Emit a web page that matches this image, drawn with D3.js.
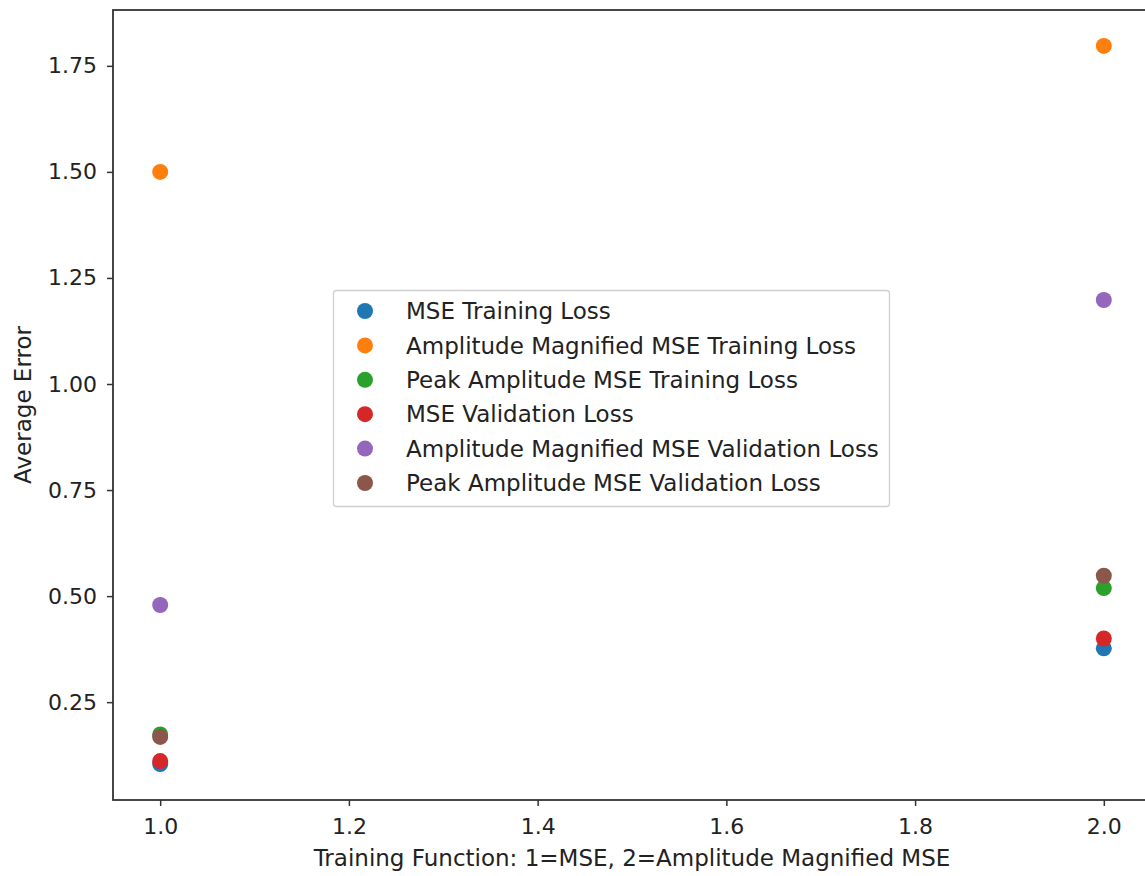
<!DOCTYPE html>
<html>
<head>
<meta charset="utf-8">
<script src="https://cdn.jsdelivr.net/npm/d3@7"></script>
<style>
  html, body { margin: 0; padding: 0; background: #fff; }
  svg { display: block; font-family: "DejaVu Sans", sans-serif; }
</style>
</head>
<body>
<svg id="chart" width="1145" height="876"></svg>
<script>
// Training function used (1 = MSE, 2 = Amplitude Magnified MSE)
const trainingFunctions = [1, 2];

// Average error of each loss, per training function
const seriesNames = [
  "MSE Training Loss",
  "Amplitude Magnified MSE Training Loss",
  "Peak Amplitude MSE Training Loss",
  "MSE Validation Loss",
  "Amplitude Magnified MSE Validation Loss",
  "Peak Amplitude MSE Validation Loss"
];
const mseTrainingLoss = [0.104, 0.377];
const ampMagTrainingLoss = [1.500, 1.797];
const peakAmpTrainingLoss = [0.174, 0.519];
const mseValidationLoss = [0.111, 0.400];
const ampMagValidationLoss = [0.479, 1.198];
const peakAmpValidationLoss = [0.168, 0.548];

const xTicks = [1.0, 1.2, 1.4, 1.6, 1.8, 2.0];
const yTicks = [0.25, 0.50, 0.75, 1.00, 1.25, 1.50, 1.75];

const seriesValues = [
  mseTrainingLoss, ampMagTrainingLoss, peakAmpTrainingLoss,
  mseValidationLoss, ampMagValidationLoss, peakAmpValidationLoss
];
const colors = ["#1f77b4", "#ff7f0e", "#2ca02c", "#d62728", "#9467bd", "#8c564b"];

const svg = d3.select("#chart");
const plot = { left: 113, right: 1151, top: 10, bottom: 800 };

// Domains padded by 5% of the data range on each side
const xExt = d3.extent(trainingFunctions);
const xPad = (xExt[1] - xExt[0]) * 0.05;
const x = d3.scaleLinear().domain([xExt[0] - xPad, xExt[1] + xPad]).range([plot.left, plot.right]);

const allY = seriesValues.flat();
const yExt = d3.extent(allY);
const yPad = (yExt[1] - yExt[0]) * 0.05;
const y = d3.scaleLinear().domain([yExt[0] - yPad, yExt[1] + yPad]).range([plot.bottom, plot.top]);

const textColor = "#222";
const labelSize = 23;
const tickSize = 22;

// Axes
const xAxis = svg.append("g")
  .attr("transform", `translate(0,${plot.bottom})`)
  .call(d3.axisBottom(x).tickValues(xTicks).tickFormat(d3.format(".1f")).tickSize(6).tickPadding(12));
const yAxis = svg.append("g")
  .attr("transform", `translate(${plot.left},0)`)
  .call(d3.axisLeft(y).tickValues(yTicks).tickFormat(d3.format(".2f")).tickSize(6).tickPadding(10));

[xAxis, yAxis].forEach(g => {
  g.select(".domain").remove();
  g.selectAll(".tick line").attr("stroke", "#333").attr("stroke-width", 1.5);
  g.selectAll(".tick text").attr("fill", textColor).style("font-size", tickSize + "px")
    .style("font-family", "DejaVu Sans");
});

// Frame
svg.append("rect")
  .attr("x", plot.left).attr("y", plot.top)
  .attr("width", plot.right - plot.left).attr("height", plot.bottom - plot.top)
  .attr("fill", "none").attr("stroke", "#333").attr("stroke-width", 1.8);

// Points
const pointGroups = svg.append("g");
seriesValues.forEach((vals, i) => {
  pointGroups.append("g")
    .selectAll("circle")
    .data(vals.map((v, j) => ({ x: trainingFunctions[j], y: v })))
    .join("circle")
    .attr("cx", d => x(d.x))
    .attr("cy", d => y(d.y))
    .attr("r", 8)
    .attr("fill", colors[i]);
});

// Axis titles
svg.append("text")
  .attr("x", (plot.left + plot.right) / 2)
  .attr("y", 866)
  .attr("text-anchor", "middle")
  .attr("fill", textColor)
  .style("font-size", labelSize + "px")
  .text("Training Function: 1=MSE, 2=Amplitude Magnified MSE");

svg.append("text")
  .attr("transform", `translate(31,${(plot.top + plot.bottom) / 2}) rotate(-90)`)
  .attr("text-anchor", "middle")
  .attr("fill", textColor)
  .style("font-size", labelSize + "px")
  .text("Average Error");

// Legend
const legend = svg.append("g").attr("transform", "translate(333,290)");
legend.append("rect")
  .attr("x", 0.5).attr("y", 0.5)
  .attr("width", 556).attr("height", 216)
  .attr("rx", 3)
  .attr("fill", "#fff").attr("fill-opacity", 0.8)
  .attr("stroke", "#d0d0d0").attr("stroke-width", 1.3);

const rowStep = 34.4;
seriesNames.forEach((name, i) => {
  const row = legend.append("g").attr("transform", `translate(0,${21 + i * rowStep})`);
  row.append("circle").attr("cx", 32).attr("cy", 0).attr("r", 8).attr("fill", colors[i]);
  row.append("text")
    .attr("x", 73).attr("y", 0).attr("dy", "0.36em")
    .attr("fill", textColor)
    .style("font-size", labelSize + "px")
    .text(name);
});
</script>
</body>
</html>
